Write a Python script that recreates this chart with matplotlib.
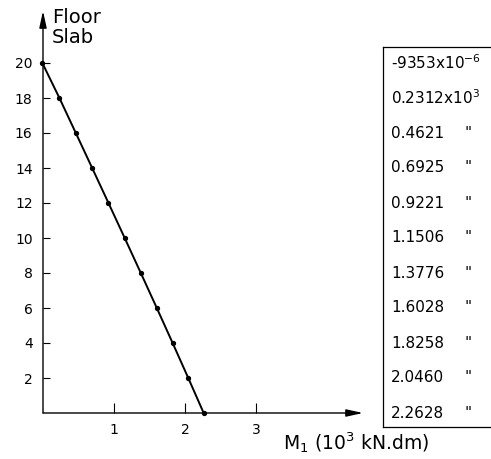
import matplotlib
matplotlib.use("Agg")
import matplotlib.pyplot as plt
import matplotlib.transforms as mtransforms

# Data
floors = [20, 18, 16, 14, 12, 10, 8, 6, 4, 2, 0]
moments = [-9353e-6, 0.2312, 0.4621, 0.6925, 0.9221, 1.1506,
           1.3776, 1.6028, 1.8258, 2.0460, 2.2628]
table_values = ["-9353x10$^{-6}$", "0.2312x10$^3$", "0.4621", "0.6925", "0.9221",
                "1.1506", "1.3776", "1.6028", "1.8258", "2.0460", "2.2628"]
table_ditto = ["", "", '"', '"', '"', '"', '"', '"', '"', '"', '"']
xticks = [1, 2, 3]
yticks = [2, 4, 6, 8, 10, 12, 14, 16, 18, 20]

W, H = 491, 459
plt.rcParams['font.family'] = ['DejaVu Sans']
fig = plt.figure(figsize=(W / 100, H / 100), dpi=100)

# axes placed so that origin, ticks and arrows land where the reference has them
x0, x1 = 43, 363
y0, y1 = 413, 11
ax = fig.add_axes([x0 / W, 1 - y0 / H, (x1 - x0) / W, (y0 - y1) / H])
ax.set_xlim(0, (x1 - x0) / 71.0)
ax.set_ylim(0, (y0 - y1) / 17.5)
for s in ax.spines.values():
    s.set_visible(False)

ax.plot(moments, floors, color='k', lw=1.4, marker='o', ms=2.8, clip_on=False)

ax.set_xticks(xticks)
ax.set_yticks(yticks)
ax.tick_params(direction='in', width=0.8, labelsize=10)
ax.tick_params(axis='x', length=7, pad=7)
ax.tick_params(axis='y', length=5, pad=7.5)

# axes with arrow heads
arrow = dict(arrowstyle='-|>,head_length=1.0,head_width=0.22', lw=1.0, color='k',
             shrinkA=0, shrinkB=0, mutation_scale=10)
ax.annotate('', xy=(1, 0), xytext=(0, 0), xycoords='axes fraction', arrowprops=arrow)
ax.annotate('', xy=(0, 1), xytext=(0, 0), xycoords='axes fraction', arrowprops=arrow)

fig.text(52 / W, 1 - 23 / H, "Floor", fontsize=14, va='baseline', ha='left')
fig.text(52 / W, 1 - 43 / H, "Slab", fontsize=14, va='baseline', ha='left')
fig.text(283 / W, 1 - 450 / H, "M$_1$ (10$^3$ kN.dm)", fontsize=13.5,
         ha='left', va='baseline')

# table of moments on the right, rows aligned with the floors
bx0, btop, bbot = 383, 47, 427
line_kw = dict(color='k', lw=0.9, transform=fig.transFigure)
fig.add_artist(plt.Line2D([bx0 / W, bx0 / W], [1 - btop / H, 1 - bbot / H], **line_kw))
fig.add_artist(plt.Line2D([bx0 / W, 1], [1 - btop / H, 1 - btop / H], **line_kw))
fig.add_artist(plt.Line2D([bx0 / W, 1], [1 - bbot / H, 1 - bbot / H], **line_kw))
trans = mtransforms.blended_transform_factory(fig.transFigure, ax.transData)
for f, v, d in zip(floors, table_values, table_ditto):
    ax.text(391 / W, f, v, transform=trans, fontsize=11, va='center', ha='left')
    if d:
        ax.text(464 / W, f, d, transform=trans, fontsize=11, va='center', ha='left')

fig.savefig("out.png", dpi=100)
